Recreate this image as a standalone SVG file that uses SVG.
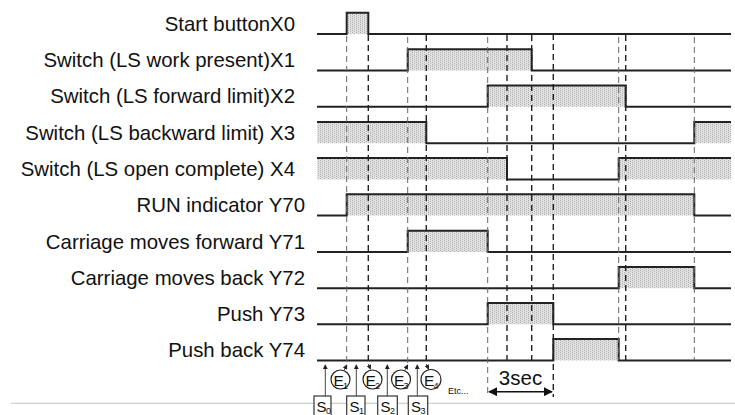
<svg xmlns="http://www.w3.org/2000/svg" width="735" height="415" viewBox="0 0 735 415">
<style>
.lbl{font-family:"Liberation Sans",Arial,sans-serif;font-size:20.4px;fill:#111;text-anchor:end}
.wave{fill:none;stroke:#222;stroke-width:2}
.hi{fill:url(#stip);stroke:none}
.dthin{stroke:#666;stroke-width:1;stroke-dasharray:6 4;fill:none}
.dthick{stroke:#222;stroke-width:1.4;stroke-dasharray:6 4;fill:none}
.arr{stroke:#444;stroke-width:1;fill:none;marker-end:url(#ah)}
.circ{fill:#fff;stroke:#222;stroke-width:1.2}
.box{fill:#fff;stroke:#333;stroke-width:1.2}
.sm{font-family:"Liberation Sans",Arial,sans-serif;fill:#111}
</style>
<defs>
<pattern id="stip" width="4" height="4" patternUnits="userSpaceOnUse">
<rect width="4" height="4" fill="#e2e2e2"/>
<rect x="0" y="0" width="1" height="1" fill="#a8a8a8"/>
<rect x="2" y="1" width="1" height="1" fill="#b4b4b4"/>
<rect x="0" y="2" width="1" height="1" fill="#a8a8a8"/>
<rect x="2" y="3" width="1" height="1" fill="#b4b4b4"/>
</pattern>
<marker id="ah" viewBox="0 0 6 6" refX="5" refY="3" markerWidth="5" markerHeight="5" orient="auto" markerUnits="userSpaceOnUse">
<path d="M0,0 L6,3 L0,6 z" fill="#222"/>
</marker>
<marker id="big" viewBox="0 0 10 10" refX="9" refY="5" markerWidth="9" markerHeight="9" orient="auto-start-reverse" markerUnits="userSpaceOnUse">
<path d="M0,0 L10,5 L0,10 z" fill="#111"/>
</marker>
</defs>
<rect width="735" height="415" fill="#fff"/>
<line x1="11" y1="403.3" x2="735" y2="403.3" stroke="#cfcfcf" stroke-width="1.2"/>

<g id="X0">
<text class="lbl" x="295" y="30.5">Start buttonX0</text>
<rect class="hi" x="346.7" y="12.7" width="21.6" height="21.3"/>
<path class="wave" d="M317,34 H346.7 V12.7 H368.3 V34 H731"/>
</g>
<g id="X1">
<text class="lbl" x="295" y="67">Switch (LS work present)X1</text>
<rect class="hi" x="407.7" y="49.2" width="124" height="21.3"/>
<path class="wave" d="M317,70.5 H407.7 V49.2 H531.7 V70.5 H731"/>
</g>
<g id="X2">
<text class="lbl" x="295" y="103.3">Switch (LS forward limit)X2</text>
<rect class="hi" x="487.7" y="85.5" width="138" height="21.3"/>
<path class="wave" d="M317,106.8 H487.7 V85.5 H625.7 V106.8 H731"/>
</g>
<g id="X3">
<text class="lbl" x="295" y="139.7">Switch (LS backward limit) X3</text>
<rect class="hi" x="317" y="121.9" width="109.3" height="21.3"/>
<rect class="hi" x="694.3" y="121.9" width="36.7" height="21.3"/>
<path class="wave" d="M317,121.9 H426.3 V143.2 H694.3 V121.9 H731"/>
</g>
<g id="X4">
<text class="lbl" x="295" y="175.9">Switch (LS open complete) X4</text>
<rect class="hi" x="317" y="158.1" width="190" height="21.3"/>
<rect class="hi" x="618.7" y="158.1" width="112.3" height="21.3"/>
<path class="wave" d="M317,158.1 H507 V179.4 H618.7 V158.1 H731"/>
</g>
<g id="Y70">
<text class="lbl" x="305" y="212">RUN indicator Y70</text>
<rect class="hi" x="346.7" y="194.2" width="347.6" height="21.3"/>
<path class="wave" d="M317,215.5 H346.7 V194.2 H694.3 V215.5 H731"/>
</g>
<g id="Y71">
<text class="lbl" x="305" y="248.5">Carriage moves forward Y71</text>
<rect class="hi" x="407.7" y="230.7" width="80" height="21.3"/>
<path class="wave" d="M317,252 H407.7 V230.7 H487.7 V252 H731"/>
</g>
<g id="Y72">
<text class="lbl" x="305" y="284.7">Carriage moves back Y72</text>
<rect class="hi" x="618.7" y="266.9" width="75.6" height="21.3"/>
<path class="wave" d="M317,288.2 H618.7 V266.9 H694.3 V288.2 H731"/>
</g>
<g id="Y73">
<text class="lbl" x="305" y="320.8">Push Y73</text>
<rect class="hi" x="487.7" y="303" width="65.6" height="21.3"/>
<path class="wave" d="M317,324.3 H487.7 V303 H553.3 V324.3 H731"/>
</g>
<g id="Y74">
<text class="lbl" x="305" y="356.9">Push back Y74</text>
<rect class="hi" x="553.3" y="339.1" width="65.4" height="21.3"/>
<path class="wave" d="M317,360.4 H553.3 V339.1 H618.7 V360.4 H731"/>
</g>

<g id="connectors">
<line class="dthin" x1="346.7" y1="36" x2="346.7" y2="366"/>
<line class="dthick" x1="368.3" y1="35" x2="368.3" y2="365"/>
<line class="dthin" x1="407.7" y1="37" x2="407.7" y2="366"/>
<line class="dthick" x1="426.3" y1="35" x2="426.3" y2="365"/>
<line class="dthin" x1="487.7" y1="37" x2="487.7" y2="397"/>
<line class="dthick" x1="507" y1="35" x2="507" y2="360"/>
<line class="dthick" x1="531.7" y1="35" x2="531.7" y2="360"/>
<line class="dthick" x1="553.3" y1="34" x2="553.3" y2="397"/>
<line class="dthin" x1="618.7" y1="37" x2="618.7" y2="360"/>
<line class="dthick" x1="625.7" y1="35" x2="625.7" y2="362"/>
<line class="dthin" x1="694.3" y1="37" x2="694.3" y2="360"/>
<line class="arr" x1="325.3" y1="396" x2="325.3" y2="365"/>
<line class="arr" x1="356.3" y1="396" x2="356.3" y2="365"/>
<line class="arr" x1="387.3" y1="396" x2="387.3" y2="365"/>
<line class="arr" x1="417.3" y1="396" x2="417.3" y2="365"/>
<line class="arr" x1="344.3" y1="370" x2="346.7" y2="365"/>
<line class="arr" x1="405" y1="370" x2="407.7" y2="365"/>
<line class="arr" x1="368.3" y1="364" x2="370.5" y2="369"/>
<line class="arr" x1="426.3" y1="364" x2="428.5" y2="369"/>
<line x1="489" y1="391.7" x2="552" y2="391.7" stroke="#111" stroke-width="1.6" marker-start="url(#big)" marker-end="url(#big)"/>
</g>

<g id="E1"><circle class="circ" cx="340.5" cy="379.5" r="9.5"/><text class="sm" x="333.5" y="385.5" font-size="15.5">E</text><text class="sm" x="343" y="389" font-size="9">1</text></g>
<g id="E2"><circle class="circ" cx="372.5" cy="379.5" r="9.5"/><text class="sm" x="365.5" y="385.5" font-size="15.5">E</text><text class="sm" x="375" y="389" font-size="9">2</text></g>
<g id="E3"><circle class="circ" cx="401" cy="379.5" r="9.5"/><text class="sm" x="394" y="385.5" font-size="15.5">E</text><text class="sm" x="403.5" y="389" font-size="9">3</text></g>
<g id="E4"><circle class="circ" cx="431" cy="379.5" r="10"/><text class="sm" x="424" y="385.5" font-size="15.5">E</text><text class="sm" x="433.5" y="389" font-size="9">4</text></g>
<text class="sm" x="448" y="394" font-size="9">Etc...</text>

<g id="S0"><rect class="box" x="314" y="396" width="17" height="22"/><text class="sm" x="316.5" y="411.5" font-size="15">S</text><text class="sm" x="326" y="413.5" font-size="9">0</text></g>
<g id="S1"><rect class="box" x="346.7" y="396" width="18.3" height="22"/><text class="sm" x="349.5" y="411.5" font-size="15">S</text><text class="sm" x="359" y="413.5" font-size="9">1</text></g>
<g id="S2"><rect class="box" x="377.7" y="396" width="19.6" height="22"/><text class="sm" x="380.5" y="411.5" font-size="15">S</text><text class="sm" x="390" y="413.5" font-size="9">2</text></g>
<g id="S3"><rect class="box" x="408.3" y="396" width="19.4" height="22"/><text class="sm" x="411" y="411.5" font-size="15">S</text><text class="sm" x="420.5" y="413.5" font-size="9">3</text></g>

<text class="sm" x="520.5" y="385" font-size="20.5" text-anchor="middle">3sec</text>
</svg>
